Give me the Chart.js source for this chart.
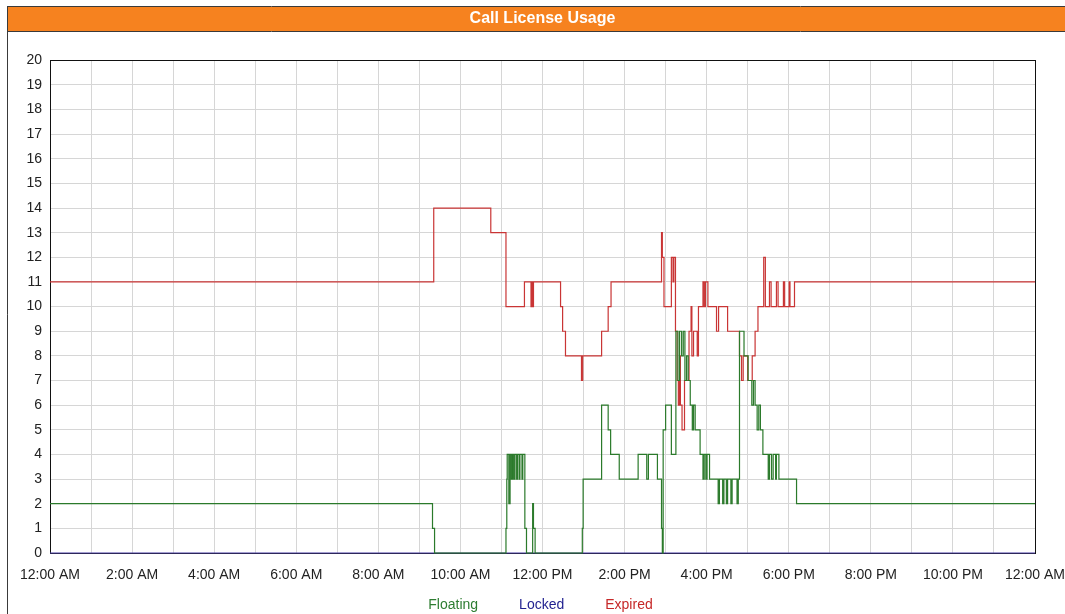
<!DOCTYPE html>
<html>
<head>
<meta charset="utf-8">
<title>Call License Usage</title>
<script src="https://cdn.jsdelivr.net/npm/chart.js@4.4.1/dist/chart.umd.min.js"></script>
<style>
  html, body { margin: 0; padding: 0; background: #fff; overflow: hidden; }
  canvas { display: block; }
</style>
</head>
<body>
<canvas id="usage" width="1065" height="622"></canvas>
<script>
// times are hours after midnight where the count changes, values hold until the next time
const floatingTimes = [0, 9.32, 9.37, 11.11, 11.13, 11.14, 11.18, 11.21, 11.24, 11.27, 11.30, 11.33, 11.37, 11.39, 11.43, 11.45, 11.50, 11.52, 11.57, 11.61, 11.76, 11.78, 11.82, 12.97, 12.99, 13.44, 13.60, 13.66, 13.87, 14.33, 14.54, 14.58, 14.80, 14.90, 14.92, 14.94, 15.00, 15.14, 15.25, 15.30, 15.34, 15.39, 15.43, 15.47, 15.51, 15.55, 15.60, 15.65, 15.68, 15.72, 15.84, 15.91, 15.94, 15.98, 16.01, 16.07, 16.28, 16.31, 16.39, 16.42, 16.48, 16.51, 16.59, 16.62, 16.74, 16.77, 16.80, 16.91, 17.01, 17.10, 17.14, 17.18, 17.23, 17.27, 17.31, 17.37, 17.50, 17.53, 17.58, 17.62, 17.68, 17.70, 17.76, 18.19, 24];
const floatingValues = [2, 1, 0, 1, 3, 4, 2, 4, 3, 4, 3, 4, 3, 4, 3, 4, 3, 4, 1, 0, 2, 1, 0, 1, 3, 6, 5, 4, 3, 4, 3, 4, 3, 1, 0, 5, 6, 4, 9, 7, 9, 8, 9, 7, 8, 7, 6, 5, 6, 5, 4, 3, 4, 3, 4, 3, 2, 3, 2, 3, 2, 3, 2, 3, 2, 3, 9, 8, 7, 6, 7, 6, 5, 6, 5, 4, 3, 4, 3, 4, 3, 4, 3, 2, 2];

const lockedTimes = [0, 24];
const lockedValues = [0, 0];

const expiredTimes = [0, 9.35, 10.74, 11.11, 11.56, 11.72, 11.74, 11.76, 11.78, 12.44, 12.49, 12.56, 12.95, 12.98, 13.44, 13.60, 13.67, 14.90, 14.92, 14.96, 15.14, 15.18, 15.20, 15.24, 15.28, 15.31, 15.34, 15.36, 15.40, 15.46, 15.57, 15.62, 15.64, 15.68, 15.77, 15.80, 15.91, 15.94, 15.97, 16.03, 16.24, 16.29, 16.51, 16.80, 16.85, 16.89, 17.00, 17.11, 17.18, 17.25, 17.39, 17.43, 17.53, 17.57, 17.70, 17.74, 17.87, 17.90, 18.01, 18.03, 18.14, 24];
const expiredValues = [11, 14, 13, 10, 11, 10, 11, 10, 11, 10, 9, 8, 7, 8, 9, 10, 11, 13, 12, 10, 12, 11, 12, 9, 7, 6, 8, 6, 5, 7, 9, 10, 8, 9, 8, 10, 11, 10, 11, 10, 9, 10, 9, 8, 7, 8, 7, 8, 9, 10, 12, 10, 11, 10, 11, 10, 11, 10, 11, 10, 11, 11];

// one label per hour, only the even hours are shown
const hourLabels = ['12:00 AM', '', '2:00 AM', '', '4:00 AM', '', '6:00 AM', '', '8:00 AM', '', '10:00 AM', '',
  '12:00 PM', '', '2:00 PM', '', '4:00 PM', '', '6:00 PM', '', '8:00 PM', '', '10:00 PM', '', '12:00 AM'];

const seriesNames = ['Floating', 'Locked', 'Expired'];
const lineColors = ['#2b7a2b', '#4a3fa6', '#c93535'];
const legendColors = ['#2e7d32', '#1f1f8f', '#c62828'];

const FONT = '"Liberation Sans", Arial, sans-serif';

const toPoints = (times, values) => times.map((t, i) => ({ x: t, y: values[i] }));

// orange title band, outer frame and plot border
const framePlugin = {
  id: 'frame',
  beforeDraw(chart) {
    const ctx = chart.ctx;
    ctx.save();
    ctx.fillStyle = '#fff';
    ctx.fillRect(0, 0, chart.width, chart.height);
    ctx.fillStyle = '#f6821f';
    ctx.fillRect(7, 7, chart.width - 7, 24);
    ctx.strokeStyle = '#3a3a3a';
    ctx.lineWidth = 1;
    ctx.beginPath();
    ctx.moveTo(7, 6.5); ctx.lineTo(chart.width, 6.5);
    ctx.moveTo(7, 31.5); ctx.lineTo(chart.width, 31.5);
    ctx.moveTo(7.5, 6.5); ctx.lineTo(7.5, chart.height);
    ctx.stroke();
    ctx.restore();
  },
  beforeDatasetsDraw(chart) {
    const a = chart.chartArea;
    const ctx = chart.ctx;
    ctx.save();
    ctx.strokeStyle = '#111';
    ctx.lineWidth = 1;
    ctx.strokeRect(Math.round(a.left) + 0.5, Math.round(a.top) + 0.5, Math.round(a.right - a.left), Math.round(a.bottom - a.top));
    ctx.restore();
  }
};

new Chart(document.getElementById('usage'), {
  type: 'line',
  data: {
    datasets: [
      { label: seriesNames[0], data: toPoints(floatingTimes, floatingValues), borderColor: lineColors[0] },
      { label: seriesNames[1], data: toPoints(lockedTimes, lockedValues), borderColor: lineColors[1] },
      { label: seriesNames[2], data: toPoints(expiredTimes, expiredValues), borderColor: lineColors[2] }
    ]
  },
  options: {
    responsive: false,
    animation: false,
    parsing: false,
    datasets: {
      line: { stepped: true, borderWidth: 1.2, pointRadius: 0, fill: false, tension: 0, clip: false }
    },
    layout: { padding: { left: 0, right: 11, top: 7, bottom: 0 } },
    plugins: {
      tooltip: { enabled: false },
      title: {
        display: true,
        fullSize: false,
        text: 'Call License Usage',
        color: '#fff',
        font: { family: FONT, size: 16, weight: 'bold' },
        padding: { top: 2, bottom: 32 }
      },
      legend: {
        position: 'bottom',
        labels: {
          boxWidth: 20,
          padding: 14,
          font: { family: FONT, size: 14 },
          generateLabels(chart) {
            return chart.data.datasets.map((ds, i) => ({
              text: ds.label,
              fillStyle: 'rgba(0,0,0,0)',
              strokeStyle: 'rgba(0,0,0,0)',
              lineWidth: 0,
              fontColor: legendColors[i],
              hidden: false,
              datasetIndex: i
            }));
          }
        }
      }
    },
    scales: {
      x: {
        type: 'linear',
        min: 0,
        max: 24,
        grid: { color: '#d6d6d6', drawTicks: false },
        border: { color: '#111' },
        afterFit: (scale) => { scale.height = 31; scale.paddingRight = 30; },
        ticks: {
          stepSize: 1,
          autoSkip: false,
          maxRotation: 0,
          padding: 14,
          color: '#222',
          font: { family: FONT, size: 14 },
          callback: (v) => hourLabels[v]
        }
      },
      y: {
        min: 0,
        max: 20,
        grid: { color: '#d6d6d6', drawTicks: false },
        border: { color: '#111' },
        afterFit: (scale) => { scale.width = 50; },
        ticks: {
          stepSize: 1,
          padding: 8,
          color: '#222',
          font: { family: FONT, size: 14 }
        }
      }
    }
  },
  plugins: [framePlugin]
});
</script>
</body>
</html>
